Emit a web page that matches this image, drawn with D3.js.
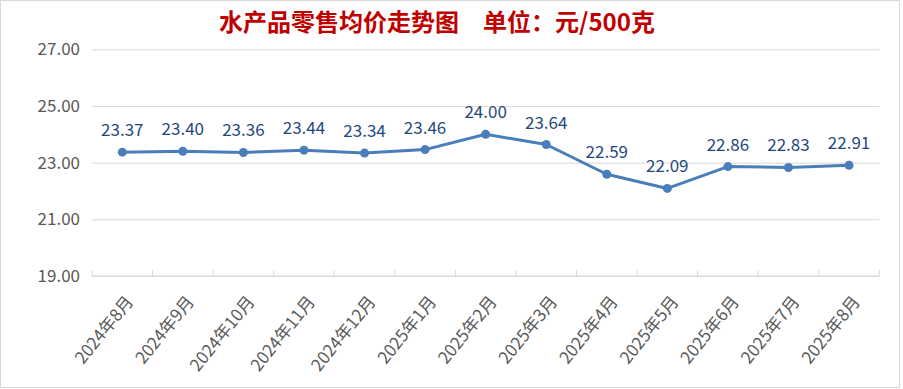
<!DOCTYPE html>
<html>
<head>
<meta charset="utf-8">
<script src="https://cdn.jsdelivr.net/npm/d3@7"></script>
<style>
  body { margin: 0; background: #fff; }
  text { font-family: "Noto Sans CJK SC", "Noto Sans", sans-serif; }
</style>
</head>
<body>
<div id="chart"></div>
<script>
// chart values
var months = ["2024年8月", "2024年9月", "2024年10月", "2024年11月", "2024年12月", "2025年1月",
  "2025年2月", "2025年3月", "2025年4月", "2025年5月", "2025年6月", "2025年7月", "2025年8月"];
var prices = [23.37, 23.40, 23.36, 23.44, 23.34, 23.46, 24.00, 23.64, 22.59, 22.09, 22.86, 22.83, 22.91];
var yTicks = [19, 21, 23, 25, 27];
var title = "水产品零售均价走势图　单位：元/500克";

var WIDTH = 903,
  HEIGHT = 389,
  MARGINS = { top: 49.3, bottom: 113, left: 92, right: 23.7 };

var data = months.map(function(m, i) { return { month: m, price: prices[i] }; });

var svg = d3.select("#chart").append("svg")
  .attr("width", WIDTH)
  .attr("height", HEIGHT);

// outer frame
svg.append("rect")
  .attr("x", 0.5).attr("y", 0.5)
  .attr("width", 899).attr("height", 387)
  .attr("fill", "#fff")
  .attr("stroke", "#d9d9d9");

// scales
var xScale = d3.scaleBand()
  .domain(months)
  .range([MARGINS.left, WIDTH - MARGINS.right]);
var yScale = d3.scaleLinear()
  .domain([19, 27])
  .range([HEIGHT - MARGINS.bottom, MARGINS.top]);

// title
svg.append("text")
  .attr("x", 437)
  .attr("y", 31)
  .attr("text-anchor", "middle")
  .attr("fill", "#c00000")
  .style("font-size", "24px")
  .style("font-weight", "bold")
  .text(title);

// gridlines + y labels
var yAxis = svg.append("g")
  .attr("transform", "translate(" + MARGINS.left + ",0)")
  .call(d3.axisLeft(yScale)
    .tickValues(yTicks)
    .tickSize(-(WIDTH - MARGINS.left - MARGINS.right))
    .tickPadding(12)
    .tickFormat(d3.format(".2f")));
yAxis.select(".domain").remove();
yAxis.selectAll("line").attr("stroke", "#d9d9d9");
yAxis.selectAll("text")
  .attr("fill", "#595959")
  .style("font-size", "17px");

// x axis line and inner tick marks
var xg = svg.append("g");
xg.append("line")
  .attr("x1", MARGINS.left).attr("x2", WIDTH - MARGINS.right)
  .attr("y1", yScale(19)).attr("y2", yScale(19))
  .attr("stroke", "#d9d9d9");
var edges = months.map(function(m) { return xScale(m); }).concat([WIDTH - MARGINS.right]);
xg.selectAll(".tk")
  .data(edges)
  .enter().append("line")
  .attr("class", "tk")
  .attr("x1", function(d) { return d; }).attr("x2", function(d) { return d; })
  .attr("y1", yScale(19) - 6).attr("y2", yScale(19))
  .attr("stroke", "#d9d9d9");

// x labels rotated
xg.selectAll(".xl")
  .data(months)
  .enter().append("text")
  .attr("class", "xl")
  .attr("text-anchor", "end")
  .attr("fill", "#595959")
  .style("font-size", "17px")
  .attr("transform", function(d) {
    var x = xScale(d) + xScale.bandwidth() / 2 + 12;
    return "translate(" + x + "," + 302 + ") rotate(-51)";
  })
  .text(function(d) { return d; });

// line
var lineGen = d3.line()
  .x(function(d) { return xScale(d.month) + xScale.bandwidth() / 2; })
  .y(function(d) { return yScale(d.price); });

svg.append("path")
  .datum(data)
  .attr("d", lineGen)
  .attr("fill", "none")
  .attr("stroke", "#4a7ebb")
  .attr("stroke-width", 3)
  .attr("stroke-linejoin", "round");

svg.selectAll(".dot")
  .data(data)
  .enter().append("circle")
  .attr("class", "dot")
  .attr("cx", function(d) { return xScale(d.month) + xScale.bandwidth() / 2; })
  .attr("cy", function(d) { return yScale(d.price); })
  .attr("r", 4.5)
  .attr("fill", "#4a7ebb");

// data labels
svg.selectAll(".lbl")
  .data(data)
  .enter().append("text")
  .attr("class", "lbl")
  .attr("text-anchor", "middle")
  .attr("fill", "#1f497d")
  .style("font-size", "17px")
  .attr("x", function(d) { return xScale(d.month) + xScale.bandwidth() / 2; })
  .attr("y", function(d) { return yScale(d.price) - 16; })
  .text(function(d) { return d3.format(".2f")(d.price); });
</script>
</body>
</html>
